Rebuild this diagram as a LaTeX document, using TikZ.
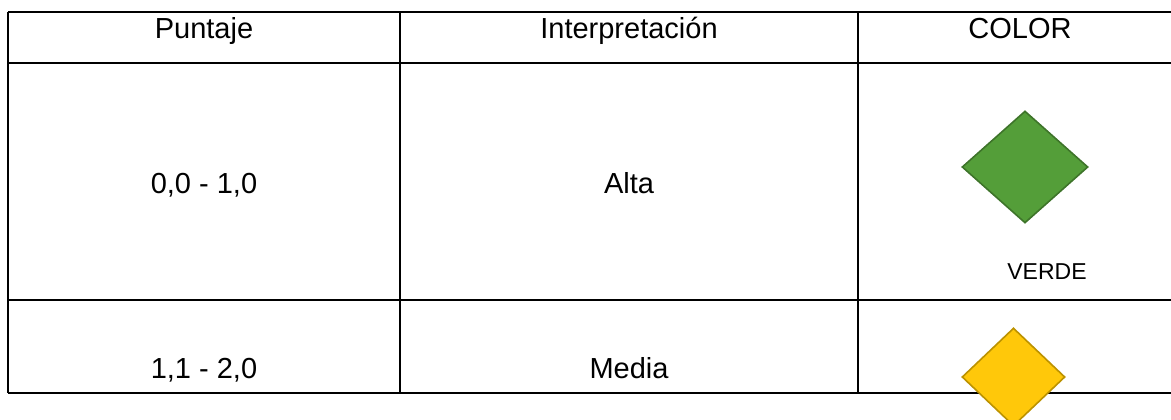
\documentclass[tikz,border=0pt]{standalone}
\usepackage{fontspec}
\setmainfont{Liberation Sans}
\usetikzlibrary{shapes.geometric}
\definecolor{greenfill}{RGB}{84,158,57}
\definecolor{greenedge}{RGB}{62,116,42}
\definecolor{goldfill}{RGB}{255,200,10}
\definecolor{goldedge}{RGB}{188,146,0}
\tikzset{
  grid/.style={line width=1.6pt, black},
  cell/.style={anchor=base, inner sep=0pt, font=\fontsize{29}{34}\selectfont},
  small/.style={anchor=base, inner sep=0pt, font=\fontsize{23}{27}\selectfont},
  gem/.style={diamond, inner sep=0pt, line width=1.6pt}
}
\begin{document}
\begin{tikzpicture}[x=1pt,y=-1pt]
\useasboundingbox (0,0) rectangle (1171,420);
\clip (0,0) rectangle (1171,420);
% grid
\draw[grid] (8,12) -- (1190,12);
\draw[grid] (8,63) -- (1190,63);
\draw[grid] (8,300) -- (1190,300);
\draw[grid] (8,393) -- (1190,393);
\draw[grid] (8,12) -- (8,393);
\draw[grid] (400,12) -- (400,393);
\draw[grid] (858,12) -- (858,393);
% header
\node[cell] (h1) at (204,39) {Puntaje};
\node[cell] (h2) at (629,39) {Interpretación};
\node[cell] (h3) at (1020,39) {COLOR};
% row 1
\node[cell] (a1) at (204,193) {0,0 - 1,0};
\node[cell] (a2) at (629,193) {Alta};
\node[gem, fill=greenfill, draw=greenedge, minimum width=126pt, minimum height=112pt] (g) at (1025,167) {};
\node[small] (v) at (1047,279) {VERDE};
% row 2
\node[cell] (b1) at (204,378) {1,1 - 2,0};
\node[cell] (b2) at (629,378) {Media};
\node[gem, fill=goldfill, draw=goldedge, minimum width=103pt, minimum height=98pt] (y) at (1013.5,377) {};
\end{tikzpicture}
\end{document}
